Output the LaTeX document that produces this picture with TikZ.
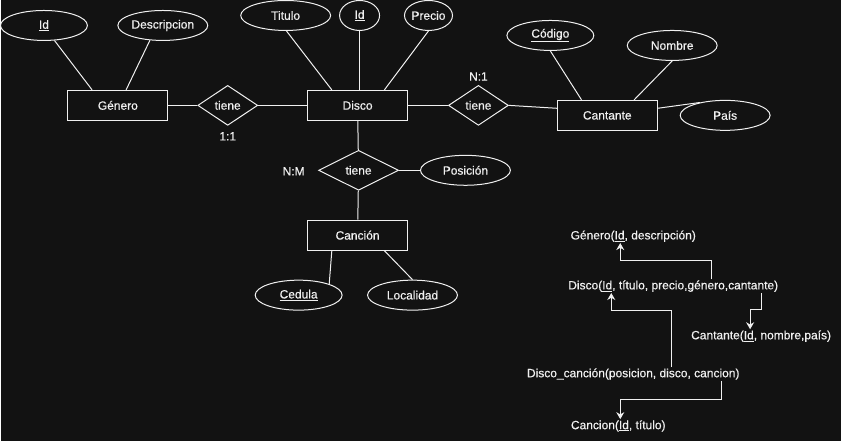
\documentclass[tikz,border=0pt]{standalone}
\usepackage{fontspec}
\setmainfont{Liberation Sans}[FakeBold=0.5]
\usetikzlibrary{shapes.geometric,arrows.meta}
\definecolor{bgc}{RGB}{18,18,18}
\definecolor{fgc}{RGB}{240,240,240}
\begin{document}
\begin{tikzpicture}[x=1pt,y=-1pt,
  every node/.style={font=\fontsize{12}{14}\selectfont,text=fgc},
  ent/.style={draw=fgc,line width=1pt,minimum width=100pt,minimum height=30pt,inner sep=0pt},
  attr/.style={draw=fgc,ellipse,line width=1pt,minimum width=#1,minimum height=30pt,inner sep=0pt},
  attr/.default=90pt,
  rel/.style={draw=fgc,diamond,line width=1pt,minimum width=#1,minimum height=40pt,inner sep=0pt},
  rel/.default=60pt,
  lnk/.style={draw=fgc,line width=1pt},
  arr/.style={draw=fgc,line width=1pt,-{Stealth[length=7pt,width=8pt]}},
  rtext/.style={inner sep=1pt}]

\fill[bgc] (0,0) rectangle (841,441);

%entities and relationships
\node[ent] (genero) at (117,105) {Género};
\node[ent] (disco) at (357,105) {Disco};
\node[ent] (cantante) at (607,115) {Cantante};
\node[ent] (cancion) at (357,235) {Canción};
\node[rel] (tieneGD) at (227,105) {tiene};
\node[rel] (tieneDS) at (478,105) {tiene};
\node[rel=80pt] (tieneDC) at (358,170) {tiene};

%cardinalities
\node (cardGD) at (227,136) {1:1};
\node (cardDS) at (478,76) {N:1};
\node (cardDC) at (293,171) {N:M};

%attributes
\node[attr=87pt] (idG) at (43,25) {\underline{Id}};
\node[attr] (desc) at (162,25) {Descripcion};
\node[attr] (titulo) at (285,15) {Titulo};
\node[attr=40pt] (idD) at (359,15) {\underline{Id}};
\node[attr=44pt] (precio) at (428,15) {Precio};
\node[attr=87pt] (codigo) at (550,35) {\underline{Código}};
\node[attr] (nombre) at (672,45) {Nombre};
\node[attr] (pais) at (725,115) {País};
\node[attr] (posicion) at (465,170) {Posición};
\node[attr=87pt] (cedula) at (298,295) {\underline{Cedula}};
\node[attr] (localidad) at (412,295) {Localidad};

%links
\draw[lnk] (genero) -- (tieneGD) -- (disco);
\draw[lnk] (disco) -- (tieneDS.west);
\draw[lnk] (tieneDS.east) -- (cantante.172);
\draw[lnk] (disco) -- (tieneDC);
\draw[lnk] (tieneDC) -- (cancion);
\draw[lnk] (tieneDC) -- (posicion);
\draw[lnk] (idG.-55) -- (genero.149);
\draw[lnk] (desc.229) -- (genero.62);
\draw[lnk] (titulo.-87) -- (disco.149);
\draw[lnk] (idD.south) -- (idD.south |- disco.north);
\draw[lnk] (precio.south) -- (disco.30);
\draw[lnk] (codigo.south) -- (cantante.149);
\draw[lnk] (nombre.south) -- (cantante.30);
\draw[lnk] (cantante.8) -- (pais.153);
\draw[lnk] (cancion.211) -- (cedula.20);
\draw[lnk] (cancion.-30) -- (localidad.north);

%relational schema
\node[rtext] (rGenero) at (633,236) {Género(\underline{Id}, descripción)};
\node[rtext] (rDisco) at (673,286) {Disco(\underline{Id}, título, precio,género,cantante)};
\node[rtext] (rCantante) at (761,336) {Cantante(\underline{Id}, nombre,país)};
\node[rtext] (rDiscoCancion) at (633,374) {Disco\_canción(posicion, disco, cancion)};
\node[rtext] (rCancion) at (618,426) {Cancion(\underline{Id}, título)};

\draw[arr] ([xshift=38pt]rDisco.north) -- ++(0,-19) -| ([xshift=-13pt]rGenero.south);
\draw[arr] ([xshift=88pt]rDisco.south) -- ++(0,17) -| ([xshift=-11pt]rCantante.north);
\draw[arr] ([xshift=38pt]rDiscoCancion.north) -- ++(0,-57) -| ([xshift=-62pt]rDisco.south);
\draw[arr] ([xshift=88pt]rDiscoCancion.south) -- ++(0,19) -| ([xshift=2pt]rCancion.north);
\end{tikzpicture}
\end{document}
